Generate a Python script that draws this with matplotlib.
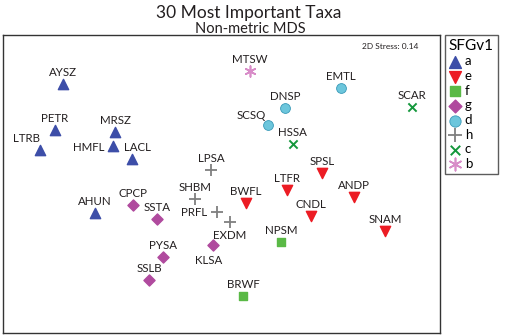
import matplotlib
matplotlib.use("Agg")
import matplotlib.pyplot as plt

# NMDS coordinates of the 30 taxa
taxa = ["AYSZ", "PETR", "LTRB", "MRSZ", "HMFL", "LACL", "AHUN",
        "MTSW",
        "SCAR", "HSSA",
        "DNSP", "SCSQ", "EMTL",
        "LPSA", "SHBM", "PRFL", "EXDM",
        "CPCP", "SSTA", "PYSA", "SSLB", "KLSA",
        "SPSL", "LTFR", "BWFL", "CNDL", "ANDP", "SNAM",
        "NPSM", "BRWF"]
group = ["a", "a", "a", "a", "a", "a", "a",
         "b",
         "c", "c",
         "d", "d", "d",
         "h", "h", "h", "h",
         "g", "g", "g", "g", "g",
         "e", "e", "e", "e", "e", "e",
         "f", "f"]
nmds1 = [-1.57, -1.65, -1.80, -1.05, -1.07, -0.88, -1.25,
         0.30,
         1.92, 0.73,
         0.65, 0.48, 1.21,
         -0.09, -0.25, -0.03, 0.10,
         -0.87, -0.63, -0.57, -0.71, -0.07,
         1.02, 0.67, 0.26, 0.91, 1.34, 1.65,
         0.61, 0.23]
nmds2 = [0.96, 0.50, 0.30, 0.48, 0.34, 0.21, -0.33,
         1.09,
         0.73, 0.36,
         0.72, 0.55, 0.92,
         0.10, -0.19, -0.32, -0.42,
         -0.25, -0.39, -0.77, -1.00, -0.65,
         0.07, -0.10, -0.23, -0.36, -0.17, -0.51,
         -0.62, -1.16]
stress = 0.14

legend_order = ["a", "e", "f", "g", "d", "h", "c", "b"]
styles = {
    "a": dict(marker="^", color="#3d4ea8", s=55),
    "e": dict(marker="v", color="#ec1c24", s=55),
    "f": dict(marker="s", color="#5ab946", s=40),
    "g": dict(marker="D", color="#b04a9e", s=32),
    "d": dict(marker="o", color="#6cc6dc", s=50, edgecolors="#3a9ab8", linewidths=0.6),
    "h": dict(marker="+", color="#7f7f7f", s=70, linewidths=1.3),
    "c": dict(marker="x", color="#14973c", s=35, linewidths=1.4),
    "b": dict(marker=(6, 2, 0), color="#d88cc8", s=60, linewidths=1.2),
}

# label offsets in points (default: centred above the marker)
offsets = {
    "LTRB": (-10, 8, "center"),
    "HMFL": (-6, -1.5, "right"),
    "LACL": (4, 8, "center"),
    "SCSQ": (-12, 7, "center"),
    "KLSA": (-3, -11, "center"),
    "EXDM": (0, -9.5, "center"),
    "PRFL": (-7, -0.5, "right"),
}

plt.rcParams["font.family"] = ["Lato", "DejaVu Sans"]

fig = plt.figure(figsize=(5.05, 3.35), dpi=100)
ax = fig.add_axes([0.006, 0.006, 0.865, 0.890])

for g in legend_order:
    xs = [x for x, gg in zip(nmds1, group) if gg == g]
    ys = [y for y, gg in zip(nmds2, group) if gg == g]
    ax.scatter(xs, ys, label=g, zorder=3, **styles[g])

for name, x, y in zip(taxa, nmds1, nmds2):
    dx, dy, ha = offsets.get(name, (0, 8.5, "center"))
    ax.annotate(name, (x, y), xytext=(dx, dy), textcoords="offset points",
                ha=ha, va="center", fontsize=8.3, color="#231f20")

ax.text(0.95, 0.962, f"2D Stress: {stress}", transform=ax.transAxes,
        ha="right", va="center", fontsize=6, color="#231f20")

ax.set_xlim(-2.17, 2.20)
ax.set_ylim(-1.53, 1.45)
ax.set_xticks([])
ax.set_yticks([])
for sp in ax.spines.values():
    sp.set_color("#333333")
    sp.set_linewidth(1.0)

fig.text(0.493, 0.962, "30 Most Important Taxa", ha="center", va="center",
         fontsize=12.5, color="#231f20")
fig.text(0.495, 0.913, "Non-metric MDS", ha="center", va="center",
         fontsize=10.5, color="#231f20")

leg = fig.legend(loc="upper left", bbox_to_anchor=(0.881, 0.896),
                 title="SFGv1", fontsize=9.5, title_fontsize=11,
                 frameon=True, fancybox=False, borderpad=0.3,
                 handletextpad=0.2, handlelength=1.0, labelspacing=0.2,
                 markerscale=1.15, borderaxespad=0.0)
leg.get_frame().set_edgecolor("#333333")
leg.get_frame().set_linewidth(1.0)
leg._legend_box.align = "left"

fig.savefig("out.png", dpi=100)
